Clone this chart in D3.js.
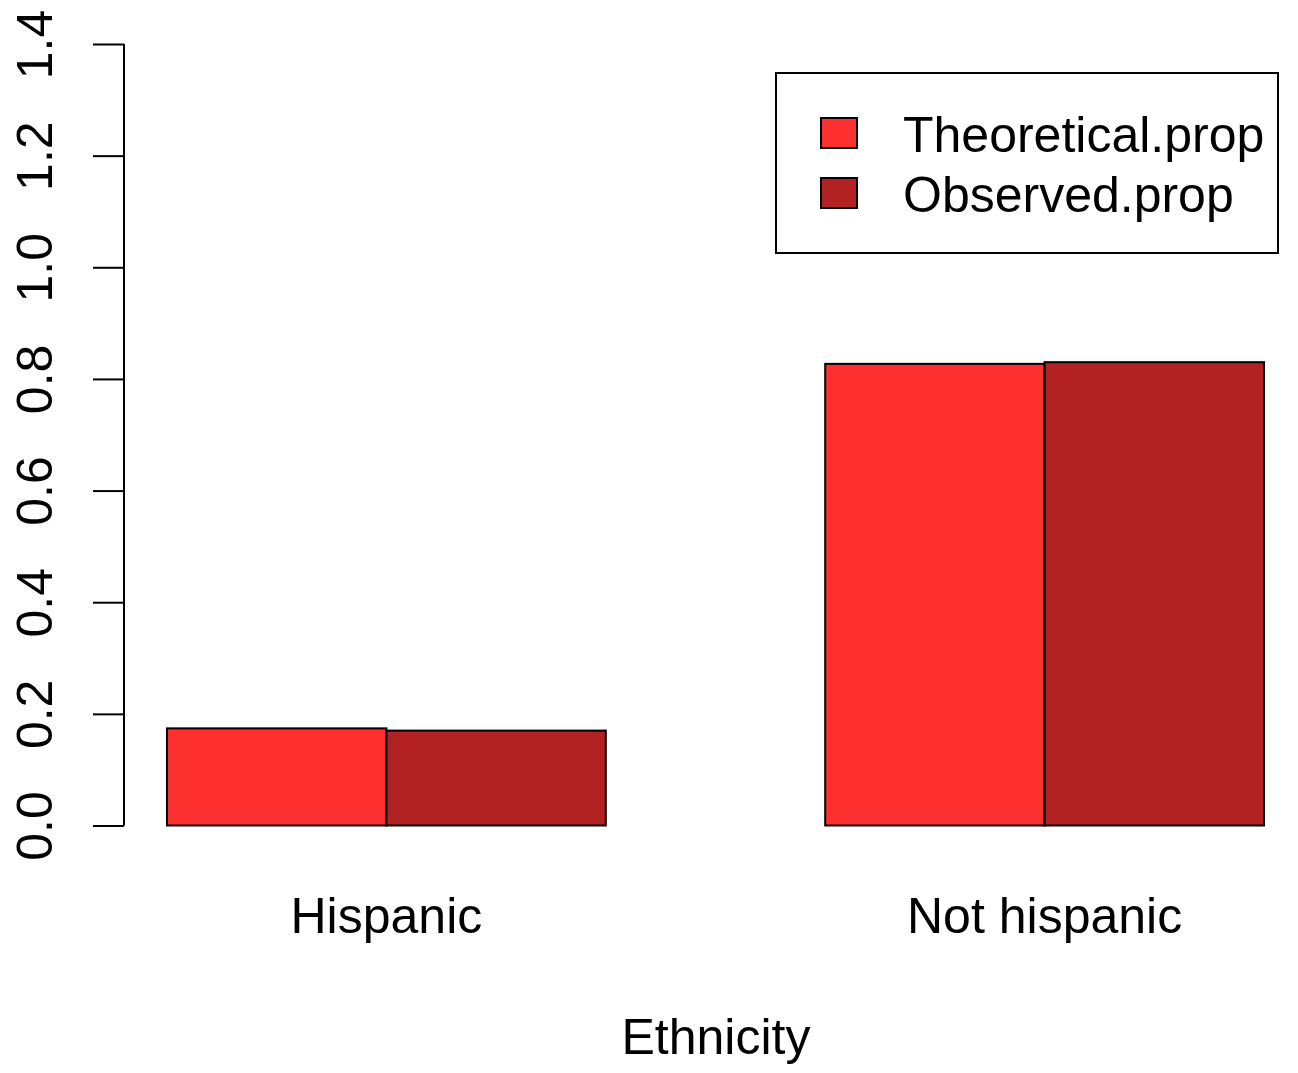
<!DOCTYPE html>
<html>
<head>
<meta charset="utf-8">
<script src="https://cdn.jsdelivr.net/npm/d3@7"></script>
<style>
  body { margin: 0; background: #fff; }
  text { font-family: "Liberation Sans", Arial, sans-serif; fill: #000; }
</style>
</head>
<body>
<svg width="1298" height="1073"></svg>
<script>
// data
const categories = ['Hispanic', 'Not hispanic'];
const seriesNames = ['Theoretical.prop', 'Observed.prop'];
const theoretical = [0.174, 0.827];
const observed = [0.170, 0.830];
const yTicks = [0, 0.2, 0.4, 0.6, 0.8, 1.0, 1.2, 1.4];
const colors = ['#ff3030', '#b22222'];

const svg = d3.select('svg');
const fontSize = 50;

const y = d3.scaleLinear().domain([0, 1.4]).range([825.5, 44]);

// groups of bars, one empty bar width between groups (R barplot beside=TRUE)
const x0 = d3.scaleBand().domain(categories).range([167, 1264])
  .paddingInner(1 / 3).paddingOuter(0);
const x1 = d3.scaleBand().domain(seriesNames).range([0, x0.bandwidth()]);

const rows = categories.map((c, i) => ({
  cat: c,
  vals: [
    { name: seriesNames[0], v: theoretical[i], col: colors[0] },
    { name: seriesNames[1], v: observed[i], col: colors[1] }
  ]
}));

// bars
const g = svg.append('g');
g.selectAll('g.grp').data(rows)
  .enter().append('g')
  .attr('class', 'grp')
  .attr('transform', d => `translate(${x0(d.cat)},0)`)
  .selectAll('rect').data(d => d.vals)
  .enter().append('rect')
  .attr('x', d => x1(d.name))
  .attr('y', d => y(d.v))
  .attr('width', x1.bandwidth())
  .attr('height', d => y(0) - y(d.v))
  .attr('fill', d => d.col)
  .attr('stroke', '#000')
  .attr('stroke-width', 2);

// y axis
const yAxis = d3.axisLeft(y).tickValues(yTicks).tickSize(31).tickPadding(0)
  .tickFormat(d3.format('.1f'));
const ax = svg.append('g').attr('transform', 'translate(124,0)').call(yAxis);
ax.select('.domain').attr('d', `M0,${y(1.4)}V${y(0)}`).attr('stroke', '#000').attr('stroke-width', 2);
ax.selectAll('.tick line').attr('stroke', '#000').attr('stroke-width', 2);
ax.selectAll('.tick text')
  .attr('x', null).attr('dy', null)
  .attr('transform', 'translate(-72,0) rotate(-90)')
  .attr('text-anchor', 'middle')
  .style('font-size', fontSize + 'px')
  .style('font-family', '"Liberation Sans", Arial, sans-serif');

// category labels
svg.selectAll('text.cat').data(categories)
  .enter().append('text')
  .attr('class', 'cat')
  .attr('x', d => x0(d) + x0.bandwidth() / 2)
  .attr('y', 933)
  .attr('text-anchor', 'middle')
  .style('font-size', fontSize + 'px')
  .text(d => d);

// x axis title
svg.append('text')
  .attr('x', 716)
  .attr('y', 1054)
  .attr('text-anchor', 'middle')
  .style('font-size', fontSize + 'px')
  .text('Ethnicity');

// legend
const leg = svg.append('g');
leg.append('rect')
  .attr('x', 776).attr('y', 73).attr('width', 502).attr('height', 180)
  .attr('fill', '#fff').attr('stroke', '#000').attr('stroke-width', 2);
const items = leg.selectAll('g.item').data(seriesNames)
  .enter().append('g')
  .attr('class', 'item')
  .attr('transform', (d, i) => `translate(0,${133 + i * 60})`);
items.append('rect')
  .attr('x', 821).attr('y', -15).attr('width', 36).attr('height', 30)
  .attr('fill', (d, i) => colors[i])
  .attr('stroke', '#000').attr('stroke-width', 2);
items.append('text')
  .attr('x', 903).attr('y', 19)
  .style('font-size', fontSize + 'px')
  .text(d => d);
</script>
</body>
</html>
